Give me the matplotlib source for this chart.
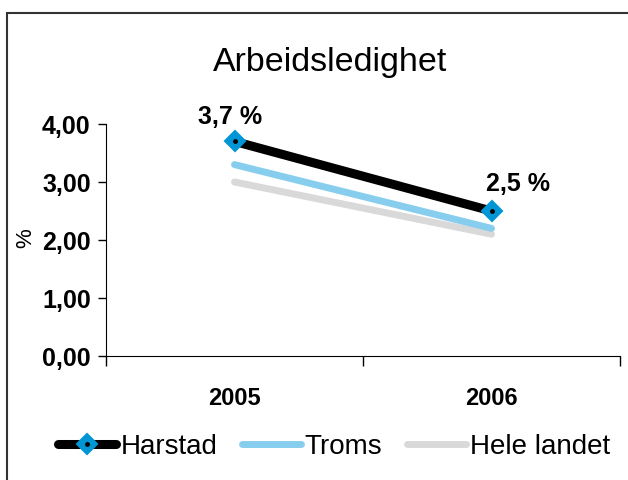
import matplotlib.pyplot as plt
from matplotlib.patches import Rectangle
from matplotlib.legend_handler import HandlerTuple

plt.rcParams['font.family'] = 'Liberation Sans'

years = ['2005', '2006']
harstad = [3.7, 2.5]
troms = [3.3, 2.2]
hele_landet = [3.0, 2.1]
harstad_labels = ['3,7 %', '2,5 %']
y_ticks = [0, 1, 2, 3, 4]
y_ticklabels = ['0,00', '1,00', '2,00', '3,00', '4,00']

fig = plt.figure(figsize=(6.28, 4.8), dpi=100)
ax = fig.add_axes([106 / 628, 1 - 356 / 480, (620 - 106) / 628, (356 - 124) / 480])

# outer frame (right/bottom fall outside the image)
fig.patches.append(Rectangle((7 / 628, -0.1), 1.1, 1 - 13 / 480 + 0.1,
                             transform=fig.transFigure, fill=False,
                             edgecolor='#333333', linewidth=1.5))

x = [0.5, 1.5]
l_hele, = ax.plot(x, hele_landet, color='#D9D9D9', lw=5, solid_capstyle='round', zorder=2)
l_troms, = ax.plot(x, troms, color='#87CEEE', lw=5, solid_capstyle='round', zorder=3)
l_har, = ax.plot(x, harstad, color='black', lw=6.5, solid_capstyle='round', marker='D',
                 markersize=10, markerfacecolor='#0096D6', markeredgecolor='#0096D6',
                 markeredgewidth=1.5, zorder=4)
dots, = ax.plot(x, harstad, ls='none', marker='o', markersize=2.5, color='black', zorder=5)

for xi, yi, lab, dx, dy in zip(x, harstad, harstad_labels, [-0.017, 0.103], [0.42, 0.47]):
    ax.text(xi + dx, yi + dy, lab, ha='center', va='center', fontsize=18, fontweight='bold')

ax.set_xlim(0, 2)
ax.set_ylim(0, 4)
ax.set_xticks([0, 1, 2])
ax.set_xticklabels([])
ax.set_xticks(x, minor=True)
ax.set_xticklabels(years, minor=True, fontsize=17, fontweight='bold')
ax.tick_params(axis='x', which='major', length=7, direction='out', width=1)
ax.tick_params(axis='x', which='minor', length=0, pad=22)
ax.set_yticks(y_ticks)
ax.set_yticklabels(y_ticklabels, fontsize=18, fontweight='bold')
ax.tick_params(axis='y', length=6, width=1, pad=5)
ax.spines['top'].set_visible(False)
ax.spines['right'].set_visible(False)
ax.set_ylabel('%', fontsize=16)
ax.yaxis.set_label_coords((36 - 106) / 514, (356 - 238) / 232)

fig.text(330 / 628, 1 - 62 / 480, 'Arbeidsledighet', ha='center', va='center', fontsize=24.5)

fig.legend([(l_har, dots), l_troms, l_hele], ['Harstad', 'Troms', 'Hele landet'],
           handler_map={tuple: HandlerTuple(ndivide=1)},
           loc='center', bbox_to_anchor=(334 / 628, 1 - 447 / 480), ncol=3,
           frameon=False, fontsize=20, handlelength=2.1, handletextpad=0.15, columnspacing=0.9)

fig.savefig('out.png', dpi=100)
